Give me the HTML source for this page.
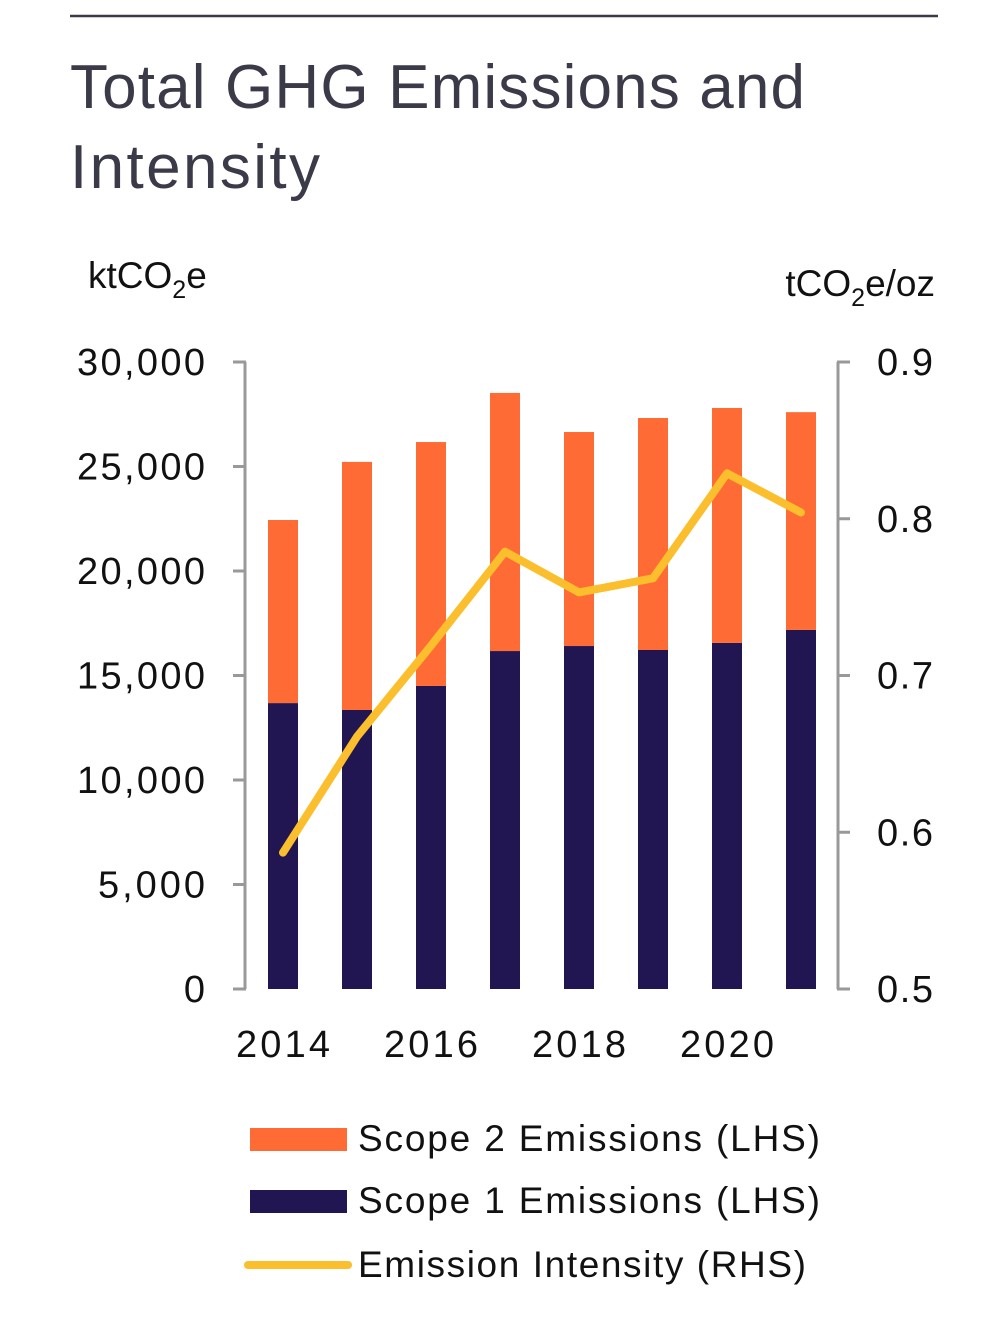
<!DOCTYPE html>
<html><head><meta charset="utf-8"><style>
body{margin:0;background:#fff;}
svg{display:block;font-family:"Liberation Sans",sans-serif;}
</style></head><body>
<svg id="c" width="1000" height="1318" viewBox="0 0 1000 1318">
<line x1="70" y1="16" x2="938" y2="16" stroke="#3a3a48" stroke-width="2.5"/>
<text x="70" y="108" font-size="62" fill="#3a3a48" textLength="735">Total GHG Emissions and</text>
<text x="70" y="188" font-size="62" fill="#3a3a48" textLength="250">Intensity</text>
<text x="88" y="288" font-size="37" fill="#111">ktCO<tspan font-size="25" dy="10">2</tspan><tspan dy="-10">e</tspan></text>
<text x="935" y="296" font-size="37" fill="#111" text-anchor="end">tCO<tspan font-size="25" dy="10">2</tspan><tspan dy="-10">e/oz</tspan></text>
<g id="g"></g>
<rect x="250" y="1128" width="97" height="23" fill="#ff6b35"/>
<text x="358" y="1151" font-size="37" fill="#111" textLength="462">Scope 2 Emissions (LHS)</text>
<rect x="250" y="1190" width="97" height="23" fill="#221652"/>
<text x="358" y="1213" font-size="37" fill="#111" textLength="462">Scope 1 Emissions (LHS)</text>
<line x1="248" y1="1265" x2="348" y2="1265" stroke="#fbbf2e" stroke-width="8" stroke-linecap="round"/>
<text x="358" y="1277" font-size="37" fill="#111" textLength="448">Emission Intensity (RHS)</text>
</svg>
<script>
const years=[2014,2015,2016,2017,2018,2019,2020,2021];
const scope1=[13680,13350,14500,16170,16410,16220,16560,17180];
const scope2=[8760,11870,11670,12350,10240,11100,11240,10420];
const intensity=[0.587,0.661,0.719,0.779,0.753,0.762,0.829,0.804];
const leftTicks=[0,5000,10000,15000,20000,25000,30000];
const leftTickLabels=["0","5,000","10,000","15,000","20,000","25,000","30,000"];
const rightTicks=[0.5,0.6,0.7,0.8,0.9];
const rightTickLabels=["0.5","0.6","0.7","0.8","0.9"];
const xLabelYears=[2014,2016,2018,2020];

const NS="http://www.w3.org/2000/svg";
const g=document.getElementById('g');
const y0=989,y1=362;
const yL=v=>y0-(v/30000)*(y0-y1);
const yR=v=>y0-((v-0.5)/0.4)*(y0-y1);
const xC=yr=>283+(yr-2014)*74;
function mk(t,a){const e=document.createElementNS(NS,t);for(const k in a)e.setAttribute(k,a[k]);g.appendChild(e);return e;}
let e=mk('line',{x1:245,y1:y1,x2:245,y2:y0,stroke:'#999','stroke-width':3});


e=mk('line',{x1:838,y1:y1,x2:838,y2:y0,stroke:'#999','stroke-width':3});


leftTicks.forEach((v,i)=>{
 let t=mk('line',{x1:233,y1:yL(v),x2:246,y2:yL(v),stroke:'#999','stroke-width':3});
 
 
 const s=leftTickLabels[i];
 let l=mk('text',{x:205,y:yL(v)+13,'font-size':38,'text-anchor':'end',fill:'#111',textLength:Math.round(s.length*21.3)});
 l.textContent=s;
 
 
});
rightTicks.forEach((v,i)=>{
 let t=mk('line',{x1:837,y1:yR(v),x2:850,y2:yR(v),stroke:'#999','stroke-width':3});
 
 
 let l=mk('text',{x:877,y:yR(v)+13,'font-size':38,fill:'#111',textLength:56});
 l.textContent=rightTickLabels[i];
 
 
});
years.forEach((yr,i)=>{
 const x=xC(yr)-15;
 let b1=mk('rect',{x:x,y:yL(scope1[i]),width:30,height:y0-yL(scope1[i]),fill:'#221652'});
 
 
 const tot=scope1[i]+scope2[i];
 let b2=mk('rect',{x:x,y:yL(tot),width:30,height:yL(scope1[i])-yL(tot),fill:'#ff6b35'});
 
 
});
xLabelYears.forEach(yr=>{
 let l=mk('text',{x:xC(yr),y:1057,'font-size':38,'text-anchor':'middle',fill:'#111',textLength:94});
 l.textContent=yr;
 
 
});
const pts=years.map((yr,i)=>xC(yr)+','+yR(intensity[i])).join(' ');
let pl=mk('polyline',{points:pts,fill:'none',stroke:'#fbbf2e','stroke-width':8,'stroke-linejoin':'round','stroke-linecap':'round'});


</script>
</body></html>
